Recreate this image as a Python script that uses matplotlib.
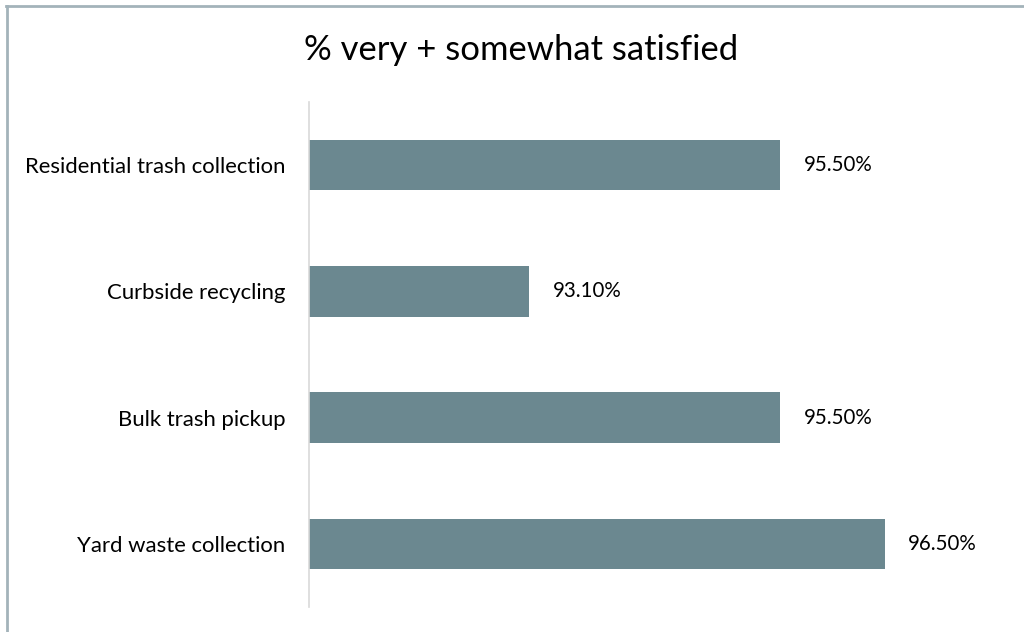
import matplotlib
matplotlib.use("Agg")
import matplotlib.pyplot as plt
from matplotlib.lines import Line2D

categories = ["Residential trash collection", "Curbside recycling", "Bulk trash pickup", "Yard waste collection"]
values = [95.5, 93.1, 95.5, 96.5]
value_labels = ["95.50%", "93.10%", "95.50%", "96.50%"]
title = "% very + somewhat satisfied"

plt.rcParams['font.family'] = ['Lato', 'DejaVu Sans']

W, H = 1024, 632
fig = plt.figure(figsize=(W/100, H/100), dpi=100)
ax = fig.add_axes([309/W, 1-607/H, (937-309)/W, (607-102)/H])

bar_color = "#6b8890"
xmin = 91
ax.barh(range(len(categories)), [v - xmin for v in values], left=xmin, height=0.4, color=bar_color)
ax.set_xlim(xmin, 97)
ax.set_ylim(len(categories) - 0.5, -0.5)
ax.set_yticks(range(len(categories)))
ax.set_yticklabels(categories, fontsize=15.9, color="#000000")
ax.tick_params(axis='y', length=0, pad=17)
ax.set_xticks([])
for s in ["top", "right", "bottom"]:
    ax.spines[s].set_visible(False)
ax.spines["left"].set_color("#d9d9d9")
ax.spines["left"].set_linewidth(1.2)

for i, (v, lab) in enumerate(zip(values, value_labels)):
    ax.annotate(lab, xy=(v, i), xytext=(17, 0), textcoords="offset points",
                va="center", ha="left", fontsize=14.8, color="#000000")

fig.text(521/W, 1-50/H, title, ha="center", va="center", fontsize=24.9, color="#000000")

border = "#a3b3ba"
fig.add_artist(Line2D([7/W, 7/W], [0, 1-6/H], color=border, lw=2, transform=fig.transFigure))
fig.add_artist(Line2D([6/W, 1], [1-6/H, 1-6/H], color=border, lw=2, transform=fig.transFigure))

fig.savefig("out.png", dpi=100, facecolor="white")
